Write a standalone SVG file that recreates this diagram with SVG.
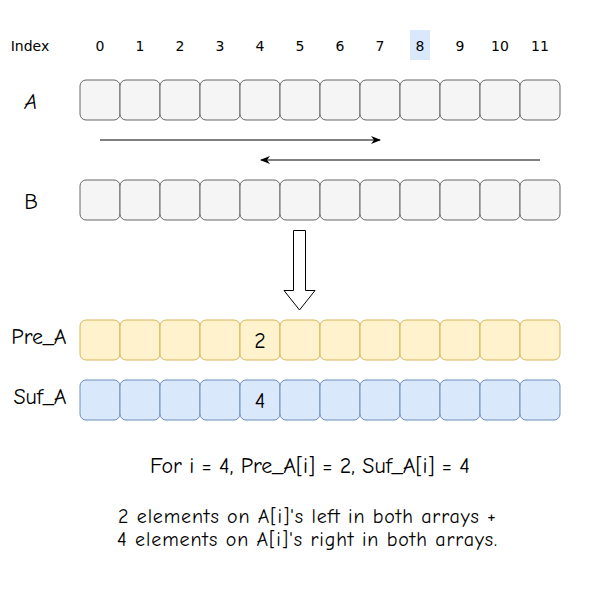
<svg xmlns="http://www.w3.org/2000/svg" width="601" height="611" viewBox="0 0 601 611">
<defs>
<style>
.idx{font-family:Tahoma,"DejaVu Sans",sans-serif;font-size:14px;fill:#000;text-anchor:middle}
.cap{font-family:"Comic Sans MS","Comic Neue","Noto Sans",sans-serif;font-size:22px;fill:#000;text-anchor:middle}
.cap2{font-size:20px}
.g{fill:#f5f5f5;stroke:#666666;stroke-width:1}
.y{fill:#fff2cc;stroke:#d6b656;stroke-width:1}
.b{fill:#dae8fc;stroke:#6c8ebf;stroke-width:1}
.conn{stroke:#000;stroke-width:1;fill:none}
</style>
<marker id="ah" viewBox="0 0 10 10" refX="9" refY="5" markerWidth="10" markerHeight="10" markerUnits="userSpaceOnUse" orient="auto">
<path d="M0,1 L10,5 L0,9 L3,5 Z" fill="#000"/>
</marker>
<rect id="cg" class="g" width="40" height="40" rx="6"/>
<rect id="cy" class="y" width="40" height="40" rx="6"/>
<rect id="cb" class="b" width="40" height="40" rx="6"/>
</defs>
<rect width="601" height="611" fill="#fff"/>
<g id="index-labels">
<rect x="410" y="30" width="20" height="30" fill="#dae8fc"/>
<text x="30" y="51" class="idx">Index</text>
<text x="100" y="51" class="idx">0</text>
<text x="140" y="51" class="idx">1</text>
<text x="180" y="51" class="idx">2</text>
<text x="220" y="51" class="idx">3</text>
<text x="260" y="51" class="idx">4</text>
<text x="300" y="51" class="idx">5</text>
<text x="340" y="51" class="idx">6</text>
<text x="380" y="51" class="idx">7</text>
<text x="420" y="51" class="idx">8</text>
<text x="460" y="51" class="idx">9</text>
<text x="500" y="51" class="idx">10</text>
<text x="540" y="51" class="idx">11</text>
</g>
<g id="label-A"><text x="31" y="109" class="cap" font-style="italic">A</text></g>
<g id="label-B"><text x="31" y="209" class="cap">B</text></g>
<g id="label-PreA"><text x="39" y="344" class="cap">Pre_A</text></g>
<g id="label-SufA"><text x="40" y="404" class="cap">Suf_A</text></g>
<g id="array-A">
<use href="#cg" x="80" y="80"/><use href="#cg" x="120" y="80"/><use href="#cg" x="160" y="80"/><use href="#cg" x="200" y="80"/><use href="#cg" x="240" y="80"/><use href="#cg" x="280" y="80"/><use href="#cg" x="320" y="80"/><use href="#cg" x="360" y="80"/><use href="#cg" x="400" y="80"/><use href="#cg" x="440" y="80"/><use href="#cg" x="480" y="80"/><use href="#cg" x="520" y="80"/>
</g>
<g id="array-B">
<use href="#cg" x="80" y="180"/><use href="#cg" x="120" y="180"/><use href="#cg" x="160" y="180"/><use href="#cg" x="200" y="180"/><use href="#cg" x="240" y="180"/><use href="#cg" x="280" y="180"/><use href="#cg" x="320" y="180"/><use href="#cg" x="360" y="180"/><use href="#cg" x="400" y="180"/><use href="#cg" x="440" y="180"/><use href="#cg" x="480" y="180"/><use href="#cg" x="520" y="180"/>
</g>
<g id="array-PreA">
<use href="#cy" x="80" y="320"/><use href="#cy" x="120" y="320"/><use href="#cy" x="160" y="320"/><use href="#cy" x="200" y="320"/><use href="#cy" x="240" y="320"/><use href="#cy" x="280" y="320"/><use href="#cy" x="320" y="320"/><use href="#cy" x="360" y="320"/><use href="#cy" x="400" y="320"/><use href="#cy" x="440" y="320"/><use href="#cy" x="480" y="320"/><use href="#cy" x="520" y="320"/>
<text x="260" y="348" class="cap">2</text>
</g>
<g id="array-SufA">
<use href="#cb" x="80" y="380"/><use href="#cb" x="120" y="380"/><use href="#cb" x="160" y="380"/><use href="#cb" x="200" y="380"/><use href="#cb" x="240" y="380"/><use href="#cb" x="280" y="380"/><use href="#cb" x="320" y="380"/><use href="#cb" x="360" y="380"/><use href="#cb" x="400" y="380"/><use href="#cb" x="440" y="380"/><use href="#cb" x="480" y="380"/><use href="#cb" x="520" y="380"/>
<text x="260" y="408" class="cap">4</text>
</g>
<g id="connectors">
<line x1="100" y1="140" x2="380" y2="140" class="conn" marker-end="url(#ah)"/>
<line x1="540" y1="160" x2="261" y2="160" class="conn" marker-end="url(#ah)"/>
<path d="M293.5,230.5 H305.5 V290.5 H315 L299.5,310 L284,290.5 H293.5 Z" fill="#fff" stroke="#000" stroke-width="1"/>
</g>
<g id="caption">
<text x="310" y="473" class="cap">For i = 4, Pre_A[i] = 2, Suf_A[i] = 4</text>
<text x="307" y="523" class="cap cap2" textLength="378" lengthAdjust="spacing">2 elements on A[i]'s left in both arrays +</text>
<text x="307" y="546" class="cap cap2" textLength="380" lengthAdjust="spacing">4 elements on A[i]'s right in both arrays.</text>
</g>
</svg>
